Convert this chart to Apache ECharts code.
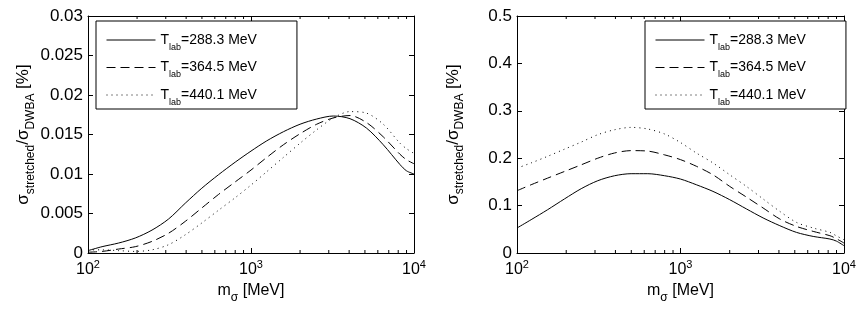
<!DOCTYPE html>
<html>
<head>
<meta charset="utf-8">
<script src="https://cdn.jsdelivr.net/npm/echarts@6/dist/echarts.min.js"></script>
<style>
html,body{margin:0;padding:0;background:#fff;}
#chart{width:863px;height:314px;}
</style>
</head>
<body>
<div id="chart"></div>
<script>
// ---- data ----
const mSigma = [100, 122, 154, 195, 247, 312, 395, 499, 631, 800, 1000, 1250, 1580, 2000, 2530, 3200, 4050, 5120, 6480, 8200, 9000, 10000];

const leftSolid  = [0.0003, 0.0008, 0.00126, 0.0019, 0.0029, 0.0043, 0.0063, 0.0082, 0.0099, 0.0115, 0.0129, 0.0142, 0.01535, 0.0163, 0.01696, 0.01734, 0.0170, 0.0158, 0.0137, 0.0112, 0.0104, 0.0100];
const leftDashed = [0.0001, 0.0002, 0.0005, 0.0008, 0.00147, 0.0025, 0.0040, 0.0057, 0.0074, 0.0090, 0.0105, 0.0121, 0.0137, 0.0151, 0.0163, 0.0171, 0.0174, 0.0165, 0.0147, 0.0125, 0.0118, 0.0113];
const leftDotted = [0.0004, 0.0004, 0.0003, 0.0002, 0.0004, 0.00105, 0.0023, 0.0038, 0.0054, 0.0070, 0.0086, 0.0103, 0.0121, 0.0139, 0.0156, 0.0171, 0.0179, 0.0177, 0.0163, 0.0139, 0.0132, 0.0126];

const rightSolid  = [0.0527, 0.0703, 0.0914, 0.114, 0.1357, 0.1525, 0.163, 0.1673, 0.1673, 0.163, 0.156, 0.144, 0.130, 0.1125, 0.093, 0.074, 0.0576, 0.0435, 0.035, 0.0295, 0.025, 0.0154];
const rightDashed = [0.1314, 0.144, 0.158, 0.172, 0.186, 0.200, 0.211, 0.216, 0.215, 0.207, 0.197, 0.183, 0.165, 0.1405, 0.118, 0.095, 0.0717, 0.0561, 0.0456, 0.0365, 0.030, 0.021];
const rightDotted = [0.179, 0.190, 0.204, 0.219, 0.234, 0.2496, 0.260, 0.265, 0.2616, 0.251, 0.233, 0.211, 0.190, 0.165, 0.1405, 0.114, 0.0878, 0.0646, 0.0527, 0.0435, 0.036, 0.028];

const seriesNames = ['T_lab=288.3 MeV', 'T_lab=364.5 MeV', 'T_lab=440.1 MeV'];
const minorTicks = [200, 300, 400, 500, 600, 700, 800, 900, 2000, 3000, 4000, 5000, 6000, 7000, 8000, 9000];
const leftYTicks = { min: 0, max: 0.03, interval: 0.005 };
const rightYTicks = { min: 0, max: 0.5, interval: 0.1 };

// ---- chart ----
const FONT = 'Liberation Sans, Arial, Helvetica, sans-serif';
const PLOT_H = 237;   // grid height in px, used to size minor ticks
const MINOR_LEN = 3;  // px
const chart = echarts.init(document.getElementById('chart'), null, { renderer: 'canvas' });

function pairs(ys) { return mSigma.map((x, i) => [x, ys[i]]); }

const lineStyles = [
  { color: '#000', width: 1, type: 'solid' },
  { color: '#000', width: 1, type: [9, 5] },
  { color: '#000', width: 1, type: [1, 4] }
];

function xAxes(gridIndex) {
  const common = {
    type: 'log', logBase: 10, min: 100, max: 10000, gridIndex: gridIndex,
    splitLine: { show: false },
    axisLine: { show: true, onZero: false, lineStyle: { color: '#000', width: 1 } },
    axisTick: { show: true, inside: true, length: 5, lineStyle: { color: '#000', width: 1 } },
    minorTick: { show: false }
  };
  return [
    Object.assign({}, common, {
      position: 'bottom',
      axisLabel: {
        show: true, margin: 6, color: '#000', fontFamily: FONT,
        formatter: v => '{b|10}{sup|' + Math.round(Math.log10(v)) + '}',
        rich: {
          b: { fontSize: 16, lineHeight: 22, fontFamily: FONT, color: '#000', verticalAlign: 'middle' },
          sup: { fontSize: 11, lineHeight: 11, fontFamily: FONT, color: '#000', verticalAlign: 'top' }
        }
      },
      name: '{b|m}{s|σ}{b| [MeV]}',
      nameLocation: 'middle', nameGap: 25,
      nameTextStyle: {
        rich: {
          b: { fontSize: 16, lineHeight: 26, fontFamily: FONT, color: '#000', verticalAlign: 'middle' },
          s: { fontSize: 12, lineHeight: 12, fontFamily: FONT, color: '#000', verticalAlign: 'bottom' }
        }
      }
    }),
    Object.assign({}, common, { position: 'top', axisLabel: { show: false } })
  ];
}

function yAxes(gridIndex, t) {
  const common = {
    type: 'value', min: t.min, max: t.max, interval: t.interval, gridIndex: gridIndex,
    splitLine: { show: false },
    axisLine: { show: true, onZero: false, lineStyle: { color: '#000', width: 1 } },
    axisTick: { show: true, inside: true, length: 5, lineStyle: { color: '#000', width: 1 } }
  };
  return [
    Object.assign({}, common, {
      position: 'left',
      axisLabel: {
        show: true, margin: 5, color: '#000', fontFamily: FONT, fontSize: 17,
        formatter: v => String(+v.toFixed(4))
      },
      name: '{b|σ}{s|stretched}{b|/σ}{s|DWBA}{b| [%]}',
      nameLocation: 'middle', nameGap: 51,
      nameTextStyle: {
        rich: {
          b: { fontSize: 17, lineHeight: 26, fontFamily: FONT, color: '#000', verticalAlign: 'middle' },
          s: { fontSize: 12, lineHeight: 12, fontFamily: FONT, color: '#000', verticalAlign: 'bottom' }
        }
      }
    }),
    Object.assign({}, common, { position: 'right', axisLabel: { show: false } })
  ];
}

// minor log ticks (2..9 x 10^n) on the bottom or top edge, as short broken line segments
function minorTickSeries(xi, yi, yMax, top) {
  const len = yMax * MINOR_LEN / PLOT_H;
  const pts = [];
  minorTicks.forEach(v => {
    if (top) pts.push([v, yMax], [v, yMax - len], [v, '-']);
    else pts.push([v, 0], [v, len], [v, '-']);
  });
  return {
    type: 'line', xAxisIndex: xi, yAxisIndex: yi, silent: true,
    data: pts, symbol: 'none', showSymbol: false, connectNulls: false,
    lineStyle: { color: '#000', width: 1 }, itemStyle: { color: '#000' },
    emphasis: { disabled: true }, z: 4
  };
}

function lineSeries(xi, yi, arrs) {
  return arrs.map((ys, i) => ({
    type: 'line', name: seriesNames[i], xAxisIndex: xi, yAxisIndex: yi,
    data: pairs(ys), symbol: 'none', smooth: 0.3, showSymbol: false,
    lineStyle: lineStyles[i], itemStyle: { color: '#000' }, z: 3
  }));
}

function legendAt(left) {
  return {
    data: seriesNames, orient: 'vertical', left: left, top: 21,
    itemWidth: 49, itemHeight: 14, itemGap: 8.5,
    padding: [12, 40, 2, 10],
    borderColor: '#000', borderWidth: 1, backgroundColor: '#fff',
    selectedMode: false,
    itemStyle: { opacity: 0 },
    lineStyle: { width: 1 },
    formatter: function (name) {
      const rest = name.split('_lab')[1];
      return '{t|T}{s|lab}{t|' + rest + '}';
    },
    textStyle: {
      rich: {
        t: { fontSize: 14, lineHeight: 24, fontFamily: FONT, color: '#000', verticalAlign: 'middle' },
        s: { fontSize: 9, lineHeight: 9, fontFamily: FONT, color: '#000', verticalAlign: 'bottom' }
      }
    }
  };
}

const option = {
  animation: false,
  backgroundColor: '#fff',
  grid: [
    { left: 88, right: 449, top: 16, bottom: 61, containLabel: false },
    { left: 517, right: 19, top: 16, bottom: 61, containLabel: false }
  ],
  xAxis: [].concat(xAxes(0), xAxes(1)),
  yAxis: [].concat(yAxes(0, leftYTicks), yAxes(1, rightYTicks)),
  legend: [legendAt(96), legendAt(645)],
  series: [].concat(
    [minorTickSeries(0, 0, leftYTicks.max, false), minorTickSeries(0, 0, leftYTicks.max, true),
     minorTickSeries(2, 2, rightYTicks.max, false), minorTickSeries(2, 2, rightYTicks.max, true)],
    lineSeries(0, 0, [leftSolid, leftDashed, leftDotted]),
    lineSeries(2, 2, [rightSolid, rightDashed, rightDotted])
  )
};
chart.setOption(option);
</script>
</body>
</html>
